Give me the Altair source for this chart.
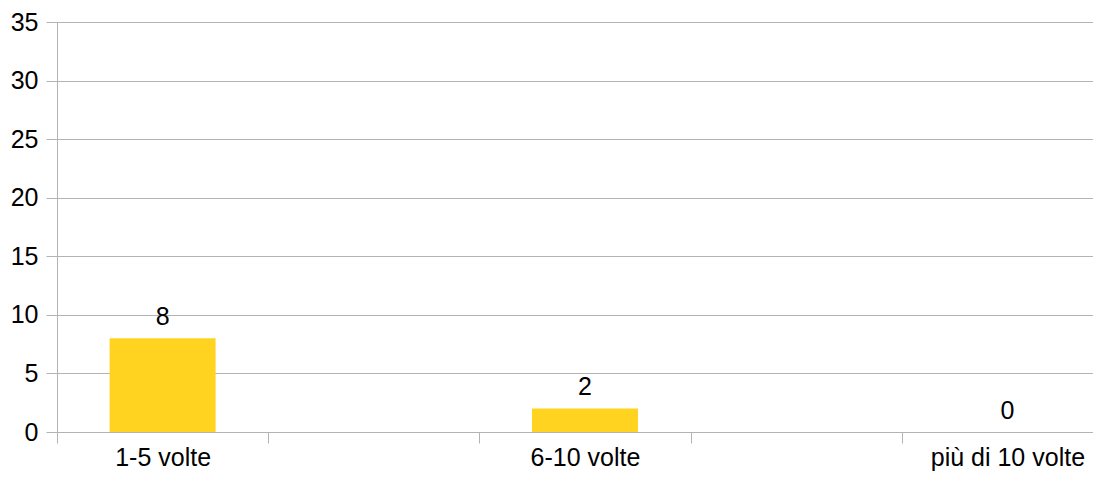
import altair as alt
import pandas as pd

# category slots along the x axis (the chart shows 5 equal slots, 3 of them labelled)
slots = ["1-5 volte", "gap1", "6-10 volte", "gap2", "più di 10 volte"]
categories = ["1-5 volte", "6-10 volte", "più di 10 volte"]
values = [8, 2, 0]
y_ticks = [0, 5, 10, 15, 20, 25, 30, 35]

df = pd.DataFrame({"cat": categories, "val": values})

GRID = "#b3b3b3"
FONT = "Liberation Sans"
FS = 25

x = alt.X(
    "cat:N",
    scale=alt.Scale(domain=slots, range=[0, 1056], paddingInner=0, paddingOuter=0),
    axis=alt.Axis(
        title=None,
        labelAngle=0,
        tickBand="extent",
        grid=False,
        labelExpr="(datum.label == 'gap1' || datum.label == 'gap2') ? '' : datum.label",
        labelOverlap=False,
        labelFontSize=FS,
        labelFont=FONT,
        labelColor="#000000",
        labelPadding=2,
        tickSize=11,
        tickColor=GRID,
        domainColor=GRID,
    ),
)
y = alt.Y(
    "val:Q",
    scale=alt.Scale(domain=[0, 35], nice=False),
    axis=alt.Axis(
        title=None,
        values=y_ticks,
        grid=True,
        gridColor=GRID,
        tickColor=GRID,
        domainColor=GRID,
        tickSize=11,
        labelPadding=8,
        labelFontSize=FS,
        labelFont=FONT,
        labelColor="#000000",
    ),
)

bars = alt.Chart(df).mark_bar(size=106, color="#ffd320").encode(x=x, y=y)
labels = alt.Chart(df).mark_text(
    dy=-13.5, baseline="alphabetic", fontSize=FS, font=FONT, color="#000000"
).encode(x=x, y=y, text=alt.Text("val:Q"))

chart = (
    alt.layer(bars, labels)
    .properties(
        width=1036,
        height=410,
        autosize=alt.AutoSizeParams(type="none"),
        padding={"left": 49, "top": 14, "right": 0, "bottom": 39},
    )
    .configure_view(stroke=None)
    .configure(background="white")
)

chart.save("out.html", embed_options={"renderer": "svg", "actions": False})
